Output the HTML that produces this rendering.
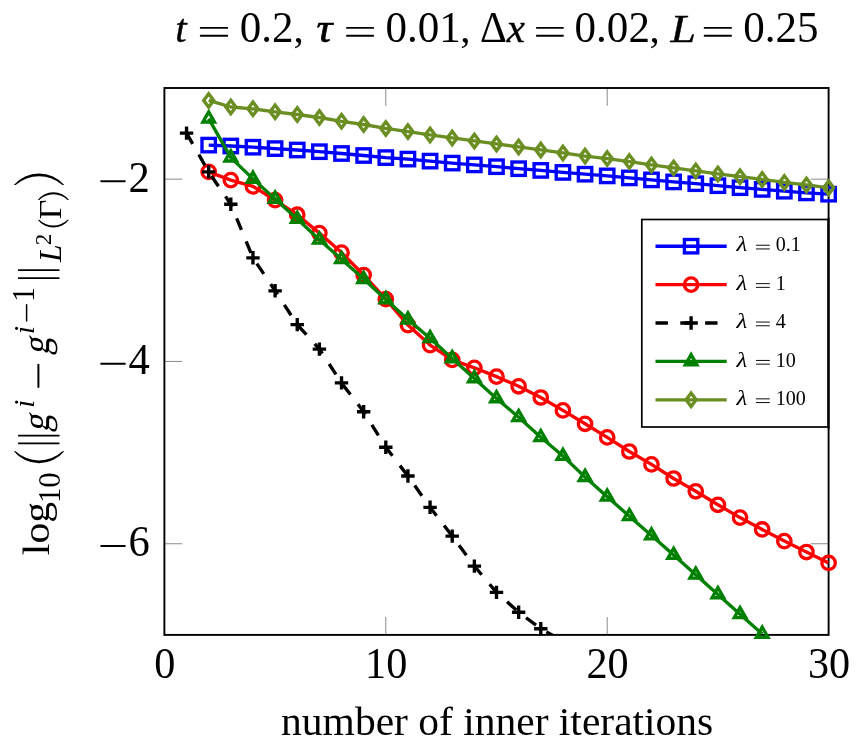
<!DOCTYPE html>
<html><head><meta charset="utf-8"><title>plot</title>
<style>
html,body{margin:0;padding:0;background:#fff;}
body{width:863px;height:749px;overflow:hidden;}
svg{display:block;will-change:transform;}
text{font-family:"Liberation Serif",serif;fill:#000;}
.tl{font-size:41px;}
.lg{font-size:19.5px;}
.sb{font-size:30px;}
.ss{font-size:22px;}
.it{font-style:italic;}
.fat{stroke:#000;stroke-width:0.7px;}
.fat2{stroke:#000;stroke-width:0.35px;}
</style></head><body>
<svg width="863" height="749" viewBox="0 0 863 749">
<defs><clipPath id="cp"><rect x="164.4" y="88" width="664.2" height="546.9"/></clipPath></defs>
<rect x="0" y="0" width="863" height="749" fill="#ffffff"/>
<path d="M164.4 634.9v-17.9M164.4 88v17.9M385.8 634.9v-17.9M385.8 88v17.9M607.2 634.9v-17.9M607.2 88v17.9M828.6 634.9v-17.9M828.6 88v17.9M164.4 179.15h17.9M828.6 179.15h-17.9M164.4 361.45h17.9M828.6 361.45h-17.9M164.4 543.75h17.9M828.6 543.75h-17.9" fill="none" stroke="#757575" stroke-width="0.85"/>
<rect x="164.4" y="88" width="664.2" height="546.9" fill="none" stroke="#000" stroke-width="1.9"/>
<polyline clip-path="url(#cp)" points="208.68,145.1 230.82,146 252.96,147.2 275.1,148.6 297.24,150 319.38,151.7 341.52,153.5 363.66,155.5 385.8,157.6 407.94,159.1 430.08,161.1 452.22,163.1 474.36,164.9 496.5,166.7 518.64,168.7 540.78,170.4 562.92,172.4 585.06,174.2 607.2,175.9 629.34,177.9 651.48,179.9 673.62,181.9 695.76,183.7 717.9,185.7 740.04,187.7 762.18,189.4 784.32,191.2 806.46,192.9 828.6,194.2" fill="none" stroke="#0000ff" stroke-width="3.35" stroke-linejoin="round"/>
<rect x="201.98" y="138.4" width="13.4" height="13.4" fill="none" stroke="#0000ff" stroke-width="3.35"/>
<rect x="224.12" y="139.3" width="13.4" height="13.4" fill="none" stroke="#0000ff" stroke-width="3.35"/>
<rect x="246.26" y="140.5" width="13.4" height="13.4" fill="none" stroke="#0000ff" stroke-width="3.35"/>
<rect x="268.4" y="141.9" width="13.4" height="13.4" fill="none" stroke="#0000ff" stroke-width="3.35"/>
<rect x="290.54" y="143.3" width="13.4" height="13.4" fill="none" stroke="#0000ff" stroke-width="3.35"/>
<rect x="312.68" y="145" width="13.4" height="13.4" fill="none" stroke="#0000ff" stroke-width="3.35"/>
<rect x="334.82" y="146.8" width="13.4" height="13.4" fill="none" stroke="#0000ff" stroke-width="3.35"/>
<rect x="356.96" y="148.8" width="13.4" height="13.4" fill="none" stroke="#0000ff" stroke-width="3.35"/>
<rect x="379.1" y="150.9" width="13.4" height="13.4" fill="none" stroke="#0000ff" stroke-width="3.35"/>
<rect x="401.24" y="152.4" width="13.4" height="13.4" fill="none" stroke="#0000ff" stroke-width="3.35"/>
<rect x="423.38" y="154.4" width="13.4" height="13.4" fill="none" stroke="#0000ff" stroke-width="3.35"/>
<rect x="445.52" y="156.4" width="13.4" height="13.4" fill="none" stroke="#0000ff" stroke-width="3.35"/>
<rect x="467.66" y="158.2" width="13.4" height="13.4" fill="none" stroke="#0000ff" stroke-width="3.35"/>
<rect x="489.8" y="160" width="13.4" height="13.4" fill="none" stroke="#0000ff" stroke-width="3.35"/>
<rect x="511.94" y="162" width="13.4" height="13.4" fill="none" stroke="#0000ff" stroke-width="3.35"/>
<rect x="534.08" y="163.7" width="13.4" height="13.4" fill="none" stroke="#0000ff" stroke-width="3.35"/>
<rect x="556.22" y="165.7" width="13.4" height="13.4" fill="none" stroke="#0000ff" stroke-width="3.35"/>
<rect x="578.36" y="167.5" width="13.4" height="13.4" fill="none" stroke="#0000ff" stroke-width="3.35"/>
<rect x="600.5" y="169.2" width="13.4" height="13.4" fill="none" stroke="#0000ff" stroke-width="3.35"/>
<rect x="622.64" y="171.2" width="13.4" height="13.4" fill="none" stroke="#0000ff" stroke-width="3.35"/>
<rect x="644.78" y="173.2" width="13.4" height="13.4" fill="none" stroke="#0000ff" stroke-width="3.35"/>
<rect x="666.92" y="175.2" width="13.4" height="13.4" fill="none" stroke="#0000ff" stroke-width="3.35"/>
<rect x="689.06" y="177" width="13.4" height="13.4" fill="none" stroke="#0000ff" stroke-width="3.35"/>
<rect x="711.2" y="179" width="13.4" height="13.4" fill="none" stroke="#0000ff" stroke-width="3.35"/>
<rect x="733.34" y="181" width="13.4" height="13.4" fill="none" stroke="#0000ff" stroke-width="3.35"/>
<rect x="755.48" y="182.7" width="13.4" height="13.4" fill="none" stroke="#0000ff" stroke-width="3.35"/>
<rect x="777.62" y="184.5" width="13.4" height="13.4" fill="none" stroke="#0000ff" stroke-width="3.35"/>
<rect x="799.76" y="186.2" width="13.4" height="13.4" fill="none" stroke="#0000ff" stroke-width="3.35"/>
<rect x="821.9" y="187.5" width="13.4" height="13.4" fill="none" stroke="#0000ff" stroke-width="3.35"/>
<polyline clip-path="url(#cp)" points="208.68,171.9 230.82,180.1 252.96,186.4 275.1,200.1 297.24,214.7 319.38,233.1 341.52,252.6 363.66,275 385.8,299.1 407.94,325.1 430.08,345.1 452.22,359.9 474.36,367.8 496.5,376.6 518.64,386.3 540.78,397.5 562.92,410.4 585.06,423.8 607.2,437.4 629.34,451.5 651.48,464.4 673.62,478.5 695.76,491.3 717.9,504.8 740.04,517.6 762.18,529.4 784.32,541.1 806.46,552 828.6,562.9" fill="none" stroke="#ff0000" stroke-width="3.35" stroke-linejoin="round"/>
<circle cx="208.68" cy="171.9" r="6.7" fill="none" stroke="#ff0000" stroke-width="3.35"/>
<circle cx="230.82" cy="180.1" r="6.7" fill="none" stroke="#ff0000" stroke-width="3.35"/>
<circle cx="252.96" cy="186.4" r="6.7" fill="none" stroke="#ff0000" stroke-width="3.35"/>
<circle cx="275.1" cy="200.1" r="6.7" fill="none" stroke="#ff0000" stroke-width="3.35"/>
<circle cx="297.24" cy="214.7" r="6.7" fill="none" stroke="#ff0000" stroke-width="3.35"/>
<circle cx="319.38" cy="233.1" r="6.7" fill="none" stroke="#ff0000" stroke-width="3.35"/>
<circle cx="341.52" cy="252.6" r="6.7" fill="none" stroke="#ff0000" stroke-width="3.35"/>
<circle cx="363.66" cy="275" r="6.7" fill="none" stroke="#ff0000" stroke-width="3.35"/>
<circle cx="385.8" cy="299.1" r="6.7" fill="none" stroke="#ff0000" stroke-width="3.35"/>
<circle cx="407.94" cy="325.1" r="6.7" fill="none" stroke="#ff0000" stroke-width="3.35"/>
<circle cx="430.08" cy="345.1" r="6.7" fill="none" stroke="#ff0000" stroke-width="3.35"/>
<circle cx="452.22" cy="359.9" r="6.7" fill="none" stroke="#ff0000" stroke-width="3.35"/>
<circle cx="474.36" cy="367.8" r="6.7" fill="none" stroke="#ff0000" stroke-width="3.35"/>
<circle cx="496.5" cy="376.6" r="6.7" fill="none" stroke="#ff0000" stroke-width="3.35"/>
<circle cx="518.64" cy="386.3" r="6.7" fill="none" stroke="#ff0000" stroke-width="3.35"/>
<circle cx="540.78" cy="397.5" r="6.7" fill="none" stroke="#ff0000" stroke-width="3.35"/>
<circle cx="562.92" cy="410.4" r="6.7" fill="none" stroke="#ff0000" stroke-width="3.35"/>
<circle cx="585.06" cy="423.8" r="6.7" fill="none" stroke="#ff0000" stroke-width="3.35"/>
<circle cx="607.2" cy="437.4" r="6.7" fill="none" stroke="#ff0000" stroke-width="3.35"/>
<circle cx="629.34" cy="451.5" r="6.7" fill="none" stroke="#ff0000" stroke-width="3.35"/>
<circle cx="651.48" cy="464.4" r="6.7" fill="none" stroke="#ff0000" stroke-width="3.35"/>
<circle cx="673.62" cy="478.5" r="6.7" fill="none" stroke="#ff0000" stroke-width="3.35"/>
<circle cx="695.76" cy="491.3" r="6.7" fill="none" stroke="#ff0000" stroke-width="3.35"/>
<circle cx="717.9" cy="504.8" r="6.7" fill="none" stroke="#ff0000" stroke-width="3.35"/>
<circle cx="740.04" cy="517.6" r="6.7" fill="none" stroke="#ff0000" stroke-width="3.35"/>
<circle cx="762.18" cy="529.4" r="6.7" fill="none" stroke="#ff0000" stroke-width="3.35"/>
<circle cx="784.32" cy="541.1" r="6.7" fill="none" stroke="#ff0000" stroke-width="3.35"/>
<circle cx="806.46" cy="552" r="6.7" fill="none" stroke="#ff0000" stroke-width="3.35"/>
<circle cx="828.6" cy="562.9" r="6.7" fill="none" stroke="#ff0000" stroke-width="3.35"/>
<polyline clip-path="url(#cp)" points="186.54,133.1 208.68,171.9 230.82,204.2 252.96,257.8 275.1,290.8 297.24,324.6 319.38,349.1 341.52,382.9 363.66,411.7 385.8,447.2 407.94,476 430.08,507.3 452.22,536.1 474.36,566.1 496.5,592.4 518.64,612.2 540.78,628.7 562.92,641" fill="none" stroke="#000000" stroke-width="3.35" stroke-linejoin="round" stroke-dasharray="12.4 12.4"/>
<path d="M179.84 133.1H193.24M186.54 126.4V139.8" fill="none" stroke="#000000" stroke-width="3.35"/>
<path d="M201.98 171.9H215.38M208.68 165.2V178.6" fill="none" stroke="#000000" stroke-width="3.35"/>
<path d="M224.12 204.2H237.52M230.82 197.5V210.9" fill="none" stroke="#000000" stroke-width="3.35"/>
<path d="M246.26 257.8H259.66M252.96 251.1V264.5" fill="none" stroke="#000000" stroke-width="3.35"/>
<path d="M268.4 290.8H281.8M275.1 284.1V297.5" fill="none" stroke="#000000" stroke-width="3.35"/>
<path d="M290.54 324.6H303.94M297.24 317.9V331.3" fill="none" stroke="#000000" stroke-width="3.35"/>
<path d="M312.68 349.1H326.08M319.38 342.4V355.8" fill="none" stroke="#000000" stroke-width="3.35"/>
<path d="M334.82 382.9H348.22M341.52 376.2V389.6" fill="none" stroke="#000000" stroke-width="3.35"/>
<path d="M356.96 411.7H370.36M363.66 405V418.4" fill="none" stroke="#000000" stroke-width="3.35"/>
<path d="M379.1 447.2H392.5M385.8 440.5V453.9" fill="none" stroke="#000000" stroke-width="3.35"/>
<path d="M401.24 476H414.64M407.94 469.3V482.7" fill="none" stroke="#000000" stroke-width="3.35"/>
<path d="M423.38 507.3H436.78M430.08 500.6V514" fill="none" stroke="#000000" stroke-width="3.35"/>
<path d="M445.52 536.1H458.92M452.22 529.4V542.8" fill="none" stroke="#000000" stroke-width="3.35"/>
<path d="M467.66 566.1H481.06M474.36 559.4V572.8" fill="none" stroke="#000000" stroke-width="3.35"/>
<path d="M489.8 592.4H503.2M496.5 585.7V599.1" fill="none" stroke="#000000" stroke-width="3.35"/>
<path d="M511.94 612.2H525.34M518.64 605.5V618.9" fill="none" stroke="#000000" stroke-width="3.35"/>
<path d="M534.08 628.7H547.48M540.78 622V635.4" fill="none" stroke="#000000" stroke-width="3.35"/>
<polyline clip-path="url(#cp)" points="208.68,118.6 230.82,157.6 252.96,178.9 275.1,198.9 297.24,219 319.38,239.8 341.52,259.2 363.66,279.1 385.8,299.4 407.94,319.6 430.08,338.3 452.22,358.4 474.36,378.4 496.5,398.4 518.64,417.2 540.78,437.2 562.92,456 585.06,477.1 607.2,496.7 629.34,516.2 651.48,535.5 673.62,555 695.76,574.8 717.9,594.4 740.04,614.3 762.18,633.9" fill="none" stroke="#008000" stroke-width="3.35" stroke-linejoin="round"/>
<path d="M208.68 111.9L202.88 121.95L214.48 121.95Z" fill="none" stroke="#008000" stroke-width="3.35" stroke-linejoin="miter"/>
<path d="M230.82 150.9L225.02 160.95L236.62 160.95Z" fill="none" stroke="#008000" stroke-width="3.35" stroke-linejoin="miter"/>
<path d="M252.96 172.2L247.16 182.25L258.76 182.25Z" fill="none" stroke="#008000" stroke-width="3.35" stroke-linejoin="miter"/>
<path d="M275.1 192.2L269.3 202.25L280.9 202.25Z" fill="none" stroke="#008000" stroke-width="3.35" stroke-linejoin="miter"/>
<path d="M297.24 212.3L291.44 222.35L303.04 222.35Z" fill="none" stroke="#008000" stroke-width="3.35" stroke-linejoin="miter"/>
<path d="M319.38 233.1L313.58 243.15L325.18 243.15Z" fill="none" stroke="#008000" stroke-width="3.35" stroke-linejoin="miter"/>
<path d="M341.52 252.5L335.72 262.55L347.32 262.55Z" fill="none" stroke="#008000" stroke-width="3.35" stroke-linejoin="miter"/>
<path d="M363.66 272.4L357.86 282.45L369.46 282.45Z" fill="none" stroke="#008000" stroke-width="3.35" stroke-linejoin="miter"/>
<path d="M385.8 292.7L380 302.75L391.6 302.75Z" fill="none" stroke="#008000" stroke-width="3.35" stroke-linejoin="miter"/>
<path d="M407.94 312.9L402.14 322.95L413.74 322.95Z" fill="none" stroke="#008000" stroke-width="3.35" stroke-linejoin="miter"/>
<path d="M430.08 331.6L424.28 341.65L435.88 341.65Z" fill="none" stroke="#008000" stroke-width="3.35" stroke-linejoin="miter"/>
<path d="M452.22 351.7L446.42 361.75L458.02 361.75Z" fill="none" stroke="#008000" stroke-width="3.35" stroke-linejoin="miter"/>
<path d="M474.36 371.7L468.56 381.75L480.16 381.75Z" fill="none" stroke="#008000" stroke-width="3.35" stroke-linejoin="miter"/>
<path d="M496.5 391.7L490.7 401.75L502.3 401.75Z" fill="none" stroke="#008000" stroke-width="3.35" stroke-linejoin="miter"/>
<path d="M518.64 410.5L512.84 420.55L524.44 420.55Z" fill="none" stroke="#008000" stroke-width="3.35" stroke-linejoin="miter"/>
<path d="M540.78 430.5L534.98 440.55L546.58 440.55Z" fill="none" stroke="#008000" stroke-width="3.35" stroke-linejoin="miter"/>
<path d="M562.92 449.3L557.12 459.35L568.72 459.35Z" fill="none" stroke="#008000" stroke-width="3.35" stroke-linejoin="miter"/>
<path d="M585.06 470.4L579.26 480.45L590.86 480.45Z" fill="none" stroke="#008000" stroke-width="3.35" stroke-linejoin="miter"/>
<path d="M607.2 490L601.4 500.05L613 500.05Z" fill="none" stroke="#008000" stroke-width="3.35" stroke-linejoin="miter"/>
<path d="M629.34 509.5L623.54 519.55L635.14 519.55Z" fill="none" stroke="#008000" stroke-width="3.35" stroke-linejoin="miter"/>
<path d="M651.48 528.8L645.68 538.85L657.28 538.85Z" fill="none" stroke="#008000" stroke-width="3.35" stroke-linejoin="miter"/>
<path d="M673.62 548.3L667.82 558.35L679.42 558.35Z" fill="none" stroke="#008000" stroke-width="3.35" stroke-linejoin="miter"/>
<path d="M695.76 568.1L689.96 578.15L701.56 578.15Z" fill="none" stroke="#008000" stroke-width="3.35" stroke-linejoin="miter"/>
<path d="M717.9 587.7L712.1 597.75L723.7 597.75Z" fill="none" stroke="#008000" stroke-width="3.35" stroke-linejoin="miter"/>
<path d="M740.04 607.6L734.24 617.65L745.84 617.65Z" fill="none" stroke="#008000" stroke-width="3.35" stroke-linejoin="miter"/>
<path d="M762.18 627.2L756.38 637.25L767.98 637.25Z" fill="none" stroke="#008000" stroke-width="3.35" stroke-linejoin="miter"/>
<polyline clip-path="url(#cp)" points="208.68,100.4 230.82,107 252.96,108.8 275.1,111.8 297.24,114.5 319.38,117.5 341.52,121.3 363.66,124.5 385.8,128.4 407.94,131.6 430.08,134.9 452.22,137.9 474.36,140.9 496.5,143.9 518.64,146.9 540.78,149.9 562.92,152.9 585.06,156.1 607.2,158.6 629.34,161.6 651.48,164.9 673.62,167.9 695.76,170.9 717.9,173.9 740.04,176.7 762.18,179.4 784.32,182.4 806.46,184.9 828.6,187.8" fill="none" stroke="#6b8e23" stroke-width="3.35" stroke-linejoin="round"/>
<path d="M208.68 93.7L213.71 100.4L208.68 107.1L203.66 100.4Z" fill="none" stroke="#6b8e23" stroke-width="3.35" stroke-linejoin="miter"/>
<path d="M230.82 100.3L235.84 107L230.82 113.7L225.79 107Z" fill="none" stroke="#6b8e23" stroke-width="3.35" stroke-linejoin="miter"/>
<path d="M252.96 102.1L257.99 108.8L252.96 115.5L247.94 108.8Z" fill="none" stroke="#6b8e23" stroke-width="3.35" stroke-linejoin="miter"/>
<path d="M275.1 105.1L280.12 111.8L275.1 118.5L270.08 111.8Z" fill="none" stroke="#6b8e23" stroke-width="3.35" stroke-linejoin="miter"/>
<path d="M297.24 107.8L302.26 114.5L297.24 121.2L292.22 114.5Z" fill="none" stroke="#6b8e23" stroke-width="3.35" stroke-linejoin="miter"/>
<path d="M319.38 110.8L324.4 117.5L319.38 124.2L314.36 117.5Z" fill="none" stroke="#6b8e23" stroke-width="3.35" stroke-linejoin="miter"/>
<path d="M341.52 114.6L346.54 121.3L341.52 128L336.5 121.3Z" fill="none" stroke="#6b8e23" stroke-width="3.35" stroke-linejoin="miter"/>
<path d="M363.66 117.8L368.68 124.5L363.66 131.2L358.63 124.5Z" fill="none" stroke="#6b8e23" stroke-width="3.35" stroke-linejoin="miter"/>
<path d="M385.8 121.7L390.82 128.4L385.8 135.1L380.78 128.4Z" fill="none" stroke="#6b8e23" stroke-width="3.35" stroke-linejoin="miter"/>
<path d="M407.94 124.9L412.97 131.6L407.94 138.3L402.92 131.6Z" fill="none" stroke="#6b8e23" stroke-width="3.35" stroke-linejoin="miter"/>
<path d="M430.08 128.2L435.11 134.9L430.08 141.6L425.06 134.9Z" fill="none" stroke="#6b8e23" stroke-width="3.35" stroke-linejoin="miter"/>
<path d="M452.22 131.2L457.25 137.9L452.22 144.6L447.2 137.9Z" fill="none" stroke="#6b8e23" stroke-width="3.35" stroke-linejoin="miter"/>
<path d="M474.36 134.2L479.38 140.9L474.36 147.6L469.34 140.9Z" fill="none" stroke="#6b8e23" stroke-width="3.35" stroke-linejoin="miter"/>
<path d="M496.5 137.2L501.52 143.9L496.5 150.6L491.48 143.9Z" fill="none" stroke="#6b8e23" stroke-width="3.35" stroke-linejoin="miter"/>
<path d="M518.64 140.2L523.66 146.9L518.64 153.6L513.62 146.9Z" fill="none" stroke="#6b8e23" stroke-width="3.35" stroke-linejoin="miter"/>
<path d="M540.78 143.2L545.8 149.9L540.78 156.6L535.75 149.9Z" fill="none" stroke="#6b8e23" stroke-width="3.35" stroke-linejoin="miter"/>
<path d="M562.92 146.2L567.94 152.9L562.92 159.6L557.89 152.9Z" fill="none" stroke="#6b8e23" stroke-width="3.35" stroke-linejoin="miter"/>
<path d="M585.06 149.4L590.09 156.1L585.06 162.8L580.04 156.1Z" fill="none" stroke="#6b8e23" stroke-width="3.35" stroke-linejoin="miter"/>
<path d="M607.2 151.9L612.23 158.6L607.2 165.3L602.18 158.6Z" fill="none" stroke="#6b8e23" stroke-width="3.35" stroke-linejoin="miter"/>
<path d="M629.34 154.9L634.37 161.6L629.34 168.3L624.32 161.6Z" fill="none" stroke="#6b8e23" stroke-width="3.35" stroke-linejoin="miter"/>
<path d="M651.48 158.2L656.5 164.9L651.48 171.6L646.46 164.9Z" fill="none" stroke="#6b8e23" stroke-width="3.35" stroke-linejoin="miter"/>
<path d="M673.62 161.2L678.64 167.9L673.62 174.6L668.6 167.9Z" fill="none" stroke="#6b8e23" stroke-width="3.35" stroke-linejoin="miter"/>
<path d="M695.76 164.2L700.78 170.9L695.76 177.6L690.74 170.9Z" fill="none" stroke="#6b8e23" stroke-width="3.35" stroke-linejoin="miter"/>
<path d="M717.9 167.2L722.92 173.9L717.9 180.6L712.88 173.9Z" fill="none" stroke="#6b8e23" stroke-width="3.35" stroke-linejoin="miter"/>
<path d="M740.04 170L745.06 176.7L740.04 183.4L735.01 176.7Z" fill="none" stroke="#6b8e23" stroke-width="3.35" stroke-linejoin="miter"/>
<path d="M762.18 172.7L767.2 179.4L762.18 186.1L757.15 179.4Z" fill="none" stroke="#6b8e23" stroke-width="3.35" stroke-linejoin="miter"/>
<path d="M784.32 175.7L789.35 182.4L784.32 189.1L779.3 182.4Z" fill="none" stroke="#6b8e23" stroke-width="3.35" stroke-linejoin="miter"/>
<path d="M806.46 178.2L811.49 184.9L806.46 191.6L801.44 184.9Z" fill="none" stroke="#6b8e23" stroke-width="3.35" stroke-linejoin="miter"/>
<path d="M828.6 181.1L833.62 187.8L828.6 194.5L823.58 187.8Z" fill="none" stroke="#6b8e23" stroke-width="3.35" stroke-linejoin="miter"/>
<rect x="641.8" y="219.5" width="186.3" height="207.5" fill="#fff" stroke="#000" stroke-width="1.7"/>
<path d="M828.6 217.5V429" stroke="#000" stroke-width="1.9"/>
<path d="M655.5 246.2H726.7" stroke="#0000ff" stroke-width="3.35" fill="none"/>
<rect x="684.4" y="239.5" width="13.4" height="13.4" fill="none" stroke="#0000ff" stroke-width="3.35"/>
<text transform="translate(736.6 251.3) scale(1.28 1.1)" class="lg it">λ</text>
<path d="M756.27 245.25H769.42M756.27 248.95H769.42" stroke="#000" stroke-width="0.95" stroke-linecap="round" fill="none"/>
<text transform="translate(775.7 251.3) scale(1.03 1.07)" class="lg">0.1</text>
<path d="M655.5 284.6H726.7" stroke="#ff0000" stroke-width="3.35" fill="none"/>
<circle cx="691.1" cy="284.6" r="6.7" fill="none" stroke="#ff0000" stroke-width="3.35"/>
<text transform="translate(736.6 289.7) scale(1.28 1.1)" class="lg it">λ</text>
<path d="M756.27 283.65H769.42M756.27 287.35H769.42" stroke="#000" stroke-width="0.95" stroke-linecap="round" fill="none"/>
<text transform="translate(775.7 289.7) scale(1.03 1.07)" class="lg">1</text>
<path d="M655.5 323H726.7" stroke="#000000" stroke-width="3.35" fill="none" stroke-dasharray="12.4 12.4"/>
<path d="M684.4 323H697.8M691.1 316.3V329.7" fill="none" stroke="#000000" stroke-width="3.35"/>
<text transform="translate(736.6 328.1) scale(1.28 1.1)" class="lg it">λ</text>
<path d="M756.27 322.05H769.42M756.27 325.75H769.42" stroke="#000" stroke-width="0.95" stroke-linecap="round" fill="none"/>
<text transform="translate(775.7 328.1) scale(1.03 1.07)" class="lg">4</text>
<path d="M655.5 361.4H726.7" stroke="#008000" stroke-width="3.35" fill="none"/>
<path d="M691.1 354.7L685.3 364.75L696.9 364.75Z" fill="none" stroke="#008000" stroke-width="3.35" stroke-linejoin="miter"/>
<text transform="translate(736.6 366.5) scale(1.28 1.1)" class="lg it">λ</text>
<path d="M756.27 360.45H769.42M756.27 364.15H769.42" stroke="#000" stroke-width="0.95" stroke-linecap="round" fill="none"/>
<text transform="translate(775.7 366.5) scale(1.03 1.07)" class="lg">10</text>
<path d="M655.5 399.8H726.7" stroke="#6b8e23" stroke-width="3.35" fill="none"/>
<path d="M691.1 393.1L696.12 399.8L691.1 406.5L686.08 399.8Z" fill="none" stroke="#6b8e23" stroke-width="3.35" stroke-linejoin="miter"/>
<text transform="translate(736.6 404.9) scale(1.28 1.1)" class="lg it">λ</text>
<path d="M756.27 398.85H769.42M756.27 402.55H769.42" stroke="#000" stroke-width="0.95" stroke-linecap="round" fill="none"/>
<text transform="translate(775.7 404.9) scale(1.03 1.07)" class="lg">100</text>
<text transform="translate(164.8 677.6) scale(1.03 1.063)" class="tl" text-anchor="middle">0</text>
<text transform="translate(386.2 677.6) scale(1.03 1.063)" class="tl" text-anchor="middle">10</text>
<text transform="translate(607.6 677.6) scale(1.03 1.063)" class="tl" text-anchor="middle">20</text>
<text transform="translate(829 677.6) scale(1.03 1.063)" class="tl" text-anchor="middle">30</text>
<text transform="translate(149.8 191.65) scale(1.04 1.063)" class="tl" text-anchor="end">2</text>
<path d="M101.2 181.35H124.8" stroke="#000" stroke-width="2" stroke-linecap="round" fill="none"/>
<text transform="translate(149.8 373.95) scale(1.04 1.063)" class="tl" text-anchor="end">4</text>
<path d="M101.2 363.65H124.8" stroke="#000" stroke-width="2" stroke-linecap="round" fill="none"/>
<text transform="translate(149.8 556.25) scale(1.04 1.063)" class="tl" text-anchor="end">6</text>
<path d="M101.2 545.95H124.8" stroke="#000" stroke-width="2" stroke-linecap="round" fill="none"/>
<text transform="translate(281.1 734.6) scale(1.0125 0.96)" class="tl">number of inner iterations</text>
<text x="175.2" y="42.4" class="tl it fat2">t</text>
<text transform="translate(239.8 42.4) scale(1.05 1.063)" class="tl ">0.2</text>
<text x="293.5" y="42.4" class="tl ">,</text>
<text transform="translate(316.4 42.4) scale(1.08 1)" class="tl it fat">τ</text>
<text transform="translate(385.4 42.4) scale(1.05 1.063)" class="tl ">0.01</text>
<text x="460.2" y="42.4" class="tl ">,</text>
<text transform="translate(480 42.4) scale(1.02 1.06)" class="tl ">Δ</text>
<text x="506.8" y="42.4" class="tl it fat2">x</text>
<text transform="translate(574.6 42.4) scale(1.05 1.063)" class="tl ">0.02</text>
<text x="649.6" y="42.4" class="tl ">,</text>
<text transform="translate(670.4 42.4) scale(1.12 1)" class="tl it fat2">L</text>
<text transform="translate(743.3 42.4) scale(1.05 1.063)" class="tl ">0.25</text>
<path d="M200.75 27.9H227.25M200.75 35.7H227.25" stroke="#000" stroke-width="1.9" stroke-linecap="round" fill="none"/>
<path d="M346.95 27.9H373.15M346.95 35.7H373.15" stroke="#000" stroke-width="1.9" stroke-linecap="round" fill="none"/>
<path d="M536.85 27.9H562.95M536.85 35.7H562.95" stroke="#000" stroke-width="1.9" stroke-linecap="round" fill="none"/>
<path d="M704.65 27.9H731.05M704.65 35.7H731.05" stroke="#000" stroke-width="1.9" stroke-linecap="round" fill="none"/>
<g transform="translate(48.6 554.6) rotate(-90)" id="ylab">
<text transform="translate(-0.6 0) scale(1.02 0.95)" class="tl">log</text>
<text transform="translate(51.6 11.7) scale(1.02 1.063)" class="sb">10</text>
<path d="M103.4 -34.8A32.57 32.57 0 0 0 103.4 15.7L103.4 13.88A34.16 34.16 0 0 1 103.4 -32.98Z" fill="#000"/>
<path d="M111.3 -30.5V10.9" stroke="#000" stroke-width="1.8" fill="none"/>
<path d="M118.9 -30.5V10.9" stroke="#000" stroke-width="1.8" fill="none"/>
<path d="M276.5 -30.5V10.9" stroke="#000" stroke-width="1.8" fill="none"/>
<path d="M284.5 -30.5V10.9" stroke="#000" stroke-width="1.8" fill="none"/>
<text transform="translate(122.3 0) scale(0.86 0.95) skewX(-12)" class="tl">g</text>
<text x="146.5" y="-14.2" class="sb it">i</text>
<path d="M167.6 -10.2H189.9" stroke="#000" stroke-width="2" stroke-linecap="round" fill="none"/>
<text transform="translate(199.4 0) scale(0.86 0.95) skewX(-12)" class="tl">g</text>
<text x="220.3" y="-14.2" class="sb it">i</text>
<path d="M233.65 -22H249.75" stroke="#000" stroke-width="1.5" stroke-linecap="round" fill="none"/>
<text transform="translate(252.8 -14.2) scale(0.97 1.05)" class="sb">1</text>
<text transform="translate(292.6 12.4) scale(1.05 1.08)" class="sb it">L</text>
<text transform="translate(309.3 2.2) scale(1.05 1.063)" class="ss">2</text>
<path d="M334.9 -10.8A19.35 19.35 0 0 0 334.9 20.4L334.9 19A20.28 20.28 0 0 1 334.9 -9.4Z" fill="#000"/>
<text transform="translate(335.3 12.4) scale(1.13 1.08)" class="sb">Γ</text>
<path d="M354.5 -10.8A19.35 19.35 0 0 1 354.5 20.4L354.5 19A20.28 20.28 0 0 0 354.5 -9.4Z" fill="#000"/>
<path d="M369.5 -34.8A33.47 33.47 0 0 1 369.5 15.7L369.5 13.88A35.59 35.59 0 0 0 369.5 -32.98Z" fill="#000"/>
</g>
</svg>
</body></html>
